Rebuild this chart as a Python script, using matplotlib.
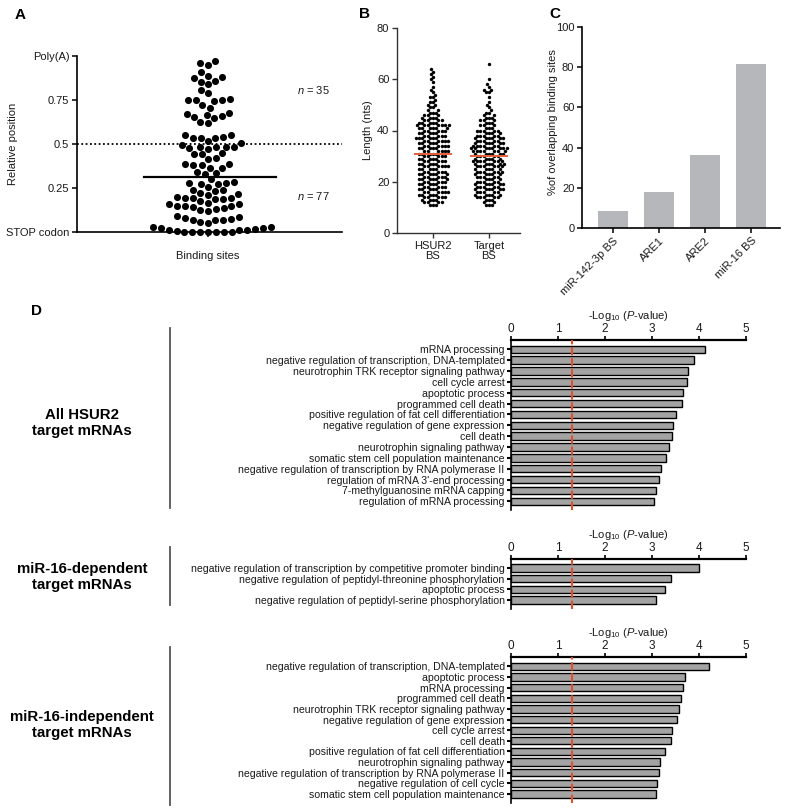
import numpy as np
import matplotlib
matplotlib.use("Agg")
import matplotlib.pyplot as plt
from matplotlib.lines import Line2D

plt.rcParams['font.family'] = ['Liberation Sans', 'DejaVu Sans']
plt.rcParams['mathtext.fontset'] = 'custom'
plt.rcParams['mathtext.rm'] = 'Liberation Sans'
plt.rcParams['mathtext.it'] = 'Liberation Sans:italic'
plt.rcParams['mathtext.bf'] = 'Liberation Sans:bold'

# ---------------- DATA ----------------
# Panel A: relative position of binding sites (0 = STOP codon, 1 = Poly(A))
posA_above = [0.972, 0.962, 0.951, 0.908, 0.885, 0.881, 0.877, 0.858, 0.855, 0.84,
              0.809, 0.79, 0.755, 0.749, 0.749, 0.749, 0.743, 0.719, 0.706, 0.677,
              0.670, 0.664, 0.658, 0.655, 0.645, 0.626, 0.617, 0.553, 0.551, 0.542,
              0.536, 0.532, 0.532, 0.517, 0.505]
posA_below = [0.497, 0.485, 0.485, 0.485, 0.481, 0.475, 0.472, 0.447, 0.442, 0.442,
              0.419, 0.413, 0.387, 0.387, 0.381, 0.381, 0.366, 0.362, 0.343, 0.334,
              0.33, 0.30, 0.283, 0.277, 0.277, 0.273, 0.273, 0.258, 0.24, 0.236,
              0.232, 0.22, 0.215, 0.21, 0.198, 0.195, 0.192, 0.192, 0.19, 0.185,
              0.175, 0.165, 0.16, 0.158, 0.15, 0.148, 0.145, 0.14, 0.135, 0.13,
              0.125, 0.12, 0.089, 0.085, 0.079, 0.075, 0.07, 0.07, 0.066, 0.057,
              0.051, 0.028, 0.025, 0.013, 0.008, 0.0, 0.0, 0.0, 0.0, 0.0,
              0.0, 0.0, 0.013, 0.013, 0.017, 0.025, 0.028]
yticksA = [0, 0.25, 0.5, 0.75, 1.0]
yticklabelsA = ['STOP codon', '0.25', '0.5', '0.75', 'Poly(A)']
nA_labels = ['$\\mathit{n}$ = 35', '$\\mathit{n}$ = 77']

# Panel B: binding-site lengths (nts) -> number of sites
hsur2_len = [11, 12, 13, 14, 15, 16, 17, 18, 19, 20, 21, 22, 23, 24, 25, 26, 27, 28, 29, 30,
             31, 32, 33, 34, 35, 36, 37, 38, 39, 40, 41, 42, 43, 44, 45, 46, 47, 48, 49, 50,
             51, 52, 53, 54, 55, 56, 57, 59, 60, 61, 62, 63, 64]
hsur2_cnt = [3, 4, 4, 5, 5, 6, 5, 5, 5, 5, 6, 5, 6, 5, 5, 6, 5, 5, 5, 5,
             5, 6, 5, 6, 5, 6, 6, 5, 5, 5, 6, 7, 5, 4, 4, 3, 3, 2, 2, 2,
             2, 1, 2, 1, 1, 1, 1, 1, 1, 1, 1, 1, 1]
target_len = [11, 12, 13, 14, 15, 16, 17, 18, 19, 20, 21, 22, 23, 24, 25, 26, 27, 28, 29, 30,
              31, 32, 33, 34, 35, 36, 37, 38, 39, 40, 41, 42, 43, 44, 45, 46, 47, 48, 49, 50,
              51, 53, 55, 56, 57, 58, 60, 66]
target_cnt = [3, 2, 3, 5, 5, 5, 6, 5, 6, 5, 4, 5, 5, 6, 5, 6, 6, 7, 5, 5,
              6, 7, 8, 6, 6, 5, 6, 5, 4, 5, 3, 3, 3, 3, 3, 2, 2, 1, 1, 1,
              1, 1, 2, 2, 1, 1, 1, 1]
catsB = ['HSUR2\nBS', 'Target\nBS']

# Panel C
catsC = ['miR-142-3p BS', 'ARE1', 'ARE2', 'miR-16 BS']
valsC = [8.6, 17.9, 36.5, 81.7]

# Panel D: GO terms and -log10(P)
go_all = ['mRNA processing', 'negative regulation of transcription, DNA-templated',
          'neurotrophin TRK receptor signaling pathway', 'cell cycle arrest',
          'apoptotic process', 'programmed cell death',
          'positive regulation of fat cell differentiation',
          'negative regulation of gene expression', 'cell death',
          'neurotrophin signaling pathway', 'somatic stem cell population maintenance',
          'negative regulation of transcription by RNA polymerase II',
          "regulation of mRNA 3'-end processing", '7-methylguanosine mRNA capping',
          'regulation of mRNA processing']
p_all = [4.12, 3.90, 3.76, 3.74, 3.66, 3.63, 3.50, 3.45, 3.42, 3.36, 3.30, 3.19, 3.15, 3.09, 3.05]

go_dep = ['negative regulation of transcription by competitive promoter binding',
          'negative regulation of peptidyl-threonine phosphorylation',
          'apoptotic process',
          'negative regulation of peptidyl-serine phosphorylation']
p_dep = [4.00, 3.41, 3.28, 3.08]

go_indep = ['negative regulation of transcription, DNA-templated', 'apoptotic process',
            'mRNA processing', 'programmed cell death',
            'neurotrophin TRK receptor signaling pathway',
            'negative regulation of gene expression', 'cell cycle arrest', 'cell death',
            'positive regulation of fat cell differentiation',
            'neurotrophin signaling pathway',
            'negative regulation of transcription by RNA polymerase II',
            'negative regulation of cell cycle',
            'somatic stem cell population maintenance']
p_indep = [4.22, 3.70, 3.66, 3.61, 3.58, 3.53, 3.43, 3.41, 3.27, 3.17, 3.15, 3.10, 3.08]
sig_threshold = 1.3  # -log10(0.05)
groups = ['All HSUR2\ntarget mRNAs', 'miR-16-dependent\ntarget mRNAs',
          'miR-16-independent\ntarget mRNAs']

# ---------------- HELPERS ----------------
W, H = 786, 809
fig = plt.figure(figsize=(W / 100, H / 100), dpi=100)
TXT = '#1a1a1a'


def fr(l, t, r, b):
    return [l / W, 1 - b / H, (r - l) / W, (b - t) / H]


def T(x, y, s, **kw):
    fig.text(x / W, 1 - y / H, s, **kw)


def beeswarm(ypx, d):
    ypx = np.asarray(ypx, float)
    order = np.argsort(ypx, kind='stable')
    xs = np.zeros(len(ypx))
    placed = []
    for i in order:
        yi = ypx[i]
        near = [(px, py) for px, py in placed if abs(py - yi) < d]
        cands = [0.0]
        for px, py in near:
            dx = np.sqrt(d * d - (py - yi) ** 2)
            cands += [px + dx, px - dx]
        cands.sort(key=lambda c: (abs(c), c))
        for c in cands:
            if all((c - px) ** 2 + (yi - py) ** 2 >= d * d - 1e-6 for px, py in near):
                xs[i] = c
                break
        placed.append((xs[i], yi))
    return xs


# ---------------- PANEL A ----------------
axA = fig.add_axes(fr(77, 56, 342, 232))
yA = np.array(posA_above + posA_below)
pxA = 176.0  # pixels per unit
xA = beeswarm(yA * pxA, 7.9)
axA.scatter(xA, yA, s=26, color='k', linewidths=0, clip_on=False, zorder=3)
axA.set_xlim(-131, 134)
axA.set_ylim(0, 1)
axA.axhline(0.5, color='k', lw=1.3, ls=(0, (1, 1.4)), zorder=2)
medA = np.median(yA)
axA.plot([-64, 68], [medA, medA], color='k', lw=1.6, zorder=4)
for s in ['top', 'right']:
    axA.spines[s].set_visible(False)
for s in ['left', 'bottom']:
    axA.spines[s].set_linewidth(1.2)
axA.set_yticks(yticksA)
axA.set_yticklabels(yticklabelsA, fontsize=8, color=TXT)
axA.set_xticks([0])
axA.set_xticklabels([''])
axA.tick_params(axis='both', direction='out', length=3.5, width=1.1, pad=2)
T(208, 256, 'Binding sites', fontsize=8, color=TXT, ha='center', va='center')
T(13, 144, 'Relative position', fontsize=8, color=TXT, ha='center', va='center', rotation=90)
T(313, 90, nA_labels[0], fontsize=8, color=TXT, ha='center', va='center')
T(313, 196, nA_labels[1], fontsize=8, color=TXT, ha='center', va='center')

# ---------------- PANEL B ----------------
axB = fig.add_axes(fr(397, 28, 520, 233))
pxBy = 205 / 80.0
pxBx = 56.0
red = '#e8603a'
for k, (lens, cnts) in enumerate([(hsur2_len, hsur2_cnt), (target_len, target_cnt)]):
    vals = np.repeat(np.array(lens, float), cnts)
    xo = beeswarm(vals * pxBy, 3.3) / pxBx
    axB.scatter(k + xo, vals, s=6, color='k', linewidths=0, zorder=3, clip_on=False)
    med = np.median(vals)
    axB.plot([k - 0.33, k + 0.33], [med, med], color=red, lw=1.4, zorder=4)
axB.set_xlim(-0.643, 1.554)
axB.set_ylim(0, 80)
for s in ['top', 'right']:
    axB.spines[s].set_visible(False)
for s in ['left', 'bottom']:
    axB.spines[s].set_linewidth(1.0)
    axB.spines[s].set_color('#333333')
axB.set_yticks([0, 20, 40, 60, 80])
axB.set_xticks([0, 1])
axB.set_xticklabels(catsB, fontsize=8, color=TXT, linespacing=1.1)
axB.tick_params(axis='y', labelsize=8, labelcolor=TXT)
axB.tick_params(axis='both', direction='out', length=3.5, width=1.0, color='#333333', pad=2)
T(368, 130, 'Length (nts)', fontsize=8, color=TXT, ha='center', va='center', rotation=90)

# ---------------- PANEL C ----------------
axC = fig.add_axes(fr(582, 27, 780, 228))
axC.bar(np.arange(len(catsC)), valsC, width=0.67, color='#b6b7bb', zorder=2)
axC.set_xlim(-0.674, 3.63)
axC.set_ylim(0, 100)
for s in ['top', 'right']:
    axC.spines[s].set_visible(False)
for s in ['left', 'bottom']:
    axC.spines[s].set_linewidth(1.2)
axC.set_yticks([0, 20, 40, 60, 80, 100])
axC.set_xticks(np.arange(len(catsC)))
axC.set_xticklabels(catsC, rotation=45, ha='right', rotation_mode='anchor', fontsize=8, color=TXT)
axC.tick_params(axis='y', labelsize=8, labelcolor=TXT)
axC.tick_params(axis='both', direction='out', length=3.5, width=1.1, pad=2)
T(553, 122, '%of overlapping binding sites', fontsize=8, color=TXT, ha='center', va='center', rotation=90)

# ---------------- PANEL D ----------------
def go_panel(rect, terms, vals, pad_top=0.85, pad_bot=0.8):
    ax = fig.add_axes(rect)
    n = len(terms)
    ypos = np.arange(n)
    ax.barh(ypos, vals, height=0.68, color='#a3a3a3', edgecolor='k', linewidth=1.0, zorder=2)
    ax.set_ylim(n - 1 + pad_bot, -pad_top)
    ax.set_xlim(0, 5)
    ax.axvline(sig_threshold, color='#e0502a', lw=1.5, ls=(0, (4, 1.3)), zorder=3)
    for s in ['bottom', 'right']:
        ax.spines[s].set_visible(False)
    ax.spines['top'].set_linewidth(1.6)
    ax.spines['left'].set_linewidth(1.2)
    ax.xaxis.tick_top()
    ax.xaxis.set_label_position('top')
    ax.set_xticks([0, 1, 2, 3, 4, 5])
    ax.tick_params(axis='x', direction='out', length=3, width=1.2, labelsize=8.5, pad=0.5,
                   labelcolor=TXT)
    ax.set_yticks(ypos)
    ax.set_yticklabels(terms, fontsize=7.6, color=TXT)
    ax.tick_params(axis='y', direction='out', length=3, width=1.5, pad=1.5)
    ax.set_xlabel('-Log$_{10}$ ($\\mathit{P}$-value)', fontsize=8, color=TXT, labelpad=3)
    return ax


axD1 = go_panel(fr(511, 340, 746, 510), go_all, p_all)
axD2 = go_panel(fr(511, 559, 746, 608.6), go_dep, p_dep)
axD3 = go_panel(fr(511, 657.3, 746, 802.5), go_indep, p_indep)

for (t, b, yc), g in zip([(328, 508, 423), (547, 605, 577), (647, 805, 725)], groups):
    fig.add_artist(Line2D([170 / W, 170 / W], [1 - t / H, 1 - b / H], color='#555555', lw=1.3))
    T(82, yc, g, fontsize=10.8, fontweight='bold', color='k', ha='center', va='center',
      linespacing=1.25)

# panel letters
for x, y, s in [(20, 15, 'A'), (365, 14, 'B'), (555, 14, 'C'), (36, 311, 'D')]:
    T(x, y, s, fontsize=11, fontweight='bold', ha='center', va='center')

fig.savefig('out.png', dpi=100)
